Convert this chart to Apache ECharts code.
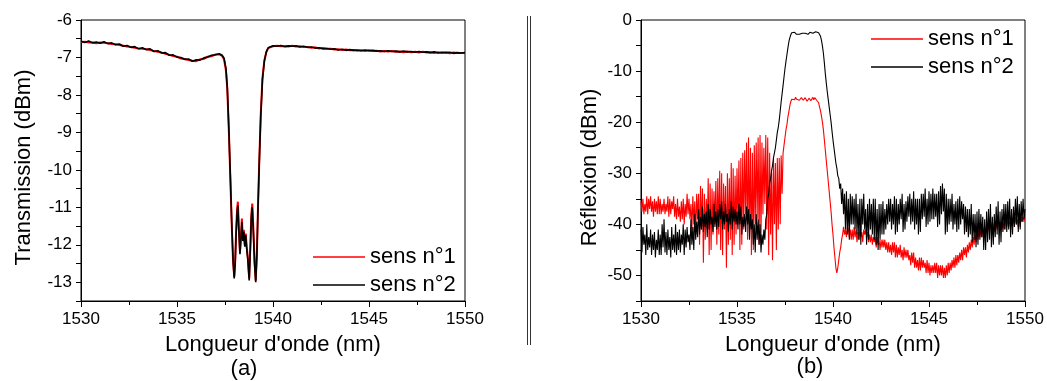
<!DOCTYPE html>
<html>
<head>
<meta charset="utf-8">
<script src="https://cdn.jsdelivr.net/npm/echarts@6/dist/echarts.min.js"></script>
<style>
html, body { margin: 0; padding: 0; background: #fff; }
#chart { width: 1047px; height: 381px; }
</style>
</head>
<body>
<div id="chart"></div>
<script>
// Transmission (a): wavelengths (nm) and both directions (dBm)
const transWl = [
  1530, 1530.2, 1530.4, 1530.6, 1530.8, 1531, 1531.2, 1531.4, 1531.6, 1531.8,
  1532, 1532.2, 1532.4, 1532.6, 1532.8, 1533, 1533.2, 1533.4, 1533.6, 1533.8,
  1534, 1534.2, 1534.4, 1534.6, 1534.8, 1535, 1535.2, 1535.4, 1535.6, 1535.8,
  1536, 1536.2, 1536.4, 1536.6, 1536.8, 1537, 1537.2,
  1537.35, 1537.45, 1537.55, 1537.62, 1537.7, 1537.78, 1537.85, 1537.92, 1537.98, 1538.03,
  1538.08, 1538.13, 1538.17, 1538.22, 1538.28, 1538.33, 1538.38, 1538.43, 1538.48, 1538.53,
  1538.58, 1538.63, 1538.69, 1538.76, 1538.82, 1538.87, 1538.92, 1538.98, 1539.04, 1539.1,
  1539.16, 1539.22, 1539.28, 1539.36, 1539.45, 1539.55, 1539.65, 1539.75, 1539.85,
  1540, 1540.2, 1540.4, 1540.6, 1540.8, 1541, 1541.2, 1541.4, 1541.6, 1541.8,
  1542, 1542.2, 1542.4, 1542.6, 1542.8, 1543, 1543.2, 1543.4, 1543.6, 1543.8,
  1544, 1544.2, 1544.4, 1544.6, 1544.8, 1545, 1545.2, 1545.4, 1545.6, 1545.8,
  1546, 1546.2, 1546.4, 1546.6, 1546.8, 1547, 1547.2, 1547.4, 1547.6, 1547.8,
  1548, 1548.2, 1548.4, 1548.6, 1548.8, 1549, 1549.2, 1549.4, 1549.6, 1549.8, 1550
];
const transN1 = [
  -6.59, -6.58, -6.6, -6.6, -6.62, -6.6, -6.61, -6.62, -6.64, -6.65,
  -6.67, -6.69, -6.71, -6.72, -6.74, -6.76, -6.77, -6.78, -6.8, -6.83,
  -6.85, -6.87, -6.9, -6.93, -6.96, -6.98, -7.03, -7.04, -7.07, -7.09,
  -7.1, -7.05, -7.04, -6.98, -6.97, -6.92, -6.92,
  -6.96, -7.05, -7.35, -7.85, -8.95, -10.25, -11.45, -12.45, -12.85, -12.45,
  -11.6, -11.05, -10.85, -11.55, -12.2, -11.75, -11.3, -11.85, -11.6, -12.0,
  -11.7, -12.05, -12.35, -12.9, -12.05, -11.2, -10.9, -11.6, -12.45, -12.95,
  -12.25, -10.95, -9.85, -8.55, -7.55, -7.08, -6.86, -6.75, -6.7,
  -6.7, -6.69, -6.7, -6.7, -6.71, -6.69, -6.71, -6.7, -6.72, -6.72,
  -6.74, -6.73, -6.76, -6.75, -6.77, -6.77, -6.79, -6.78, -6.8, -6.79,
  -6.81, -6.8, -6.82, -6.81, -6.83, -6.81, -6.83, -6.82, -6.84, -6.83,
  -6.84, -6.83, -6.85, -6.84, -6.86, -6.84, -6.86, -6.85, -6.87, -6.85,
  -6.87, -6.86, -6.88, -6.86, -6.88, -6.87, -6.89, -6.87, -6.88, -6.88, -6.88
];
const transN2 = [
  -6.57, -6.6, -6.56, -6.61, -6.59, -6.62, -6.58, -6.63, -6.61, -6.66,
  -6.64, -6.7, -6.68, -6.73, -6.71, -6.77, -6.74, -6.79, -6.77, -6.84,
  -6.82, -6.88, -6.87, -6.94, -6.93, -6.99, -7.0, -7.05, -7.04, -7.1,
  -7.06, -7.07, -7.01, -6.99, -6.94, -6.93, -6.9,
  -6.94, -7.02, -7.3, -7.8, -8.9, -10.2, -11.4, -12.4, -12.9, -12.5,
  -11.7, -11.15, -10.95, -11.6, -12.25, -11.85, -11.4, -11.9, -11.65, -12.05,
  -11.75, -12.1, -12.4, -12.95, -12.1, -11.3, -11.0, -11.7, -12.5, -13.0,
  -12.3, -11.0, -9.9, -8.6, -7.6, -7.1, -6.85, -6.74, -6.71,
  -6.69, -6.7, -6.68, -6.71, -6.69, -6.7, -6.69, -6.72, -6.7, -6.73,
  -6.72, -6.75, -6.74, -6.77, -6.76, -6.78, -6.77, -6.8, -6.78, -6.81,
  -6.79, -6.81, -6.8, -6.82, -6.8, -6.82, -6.81, -6.83, -6.82, -6.84,
  -6.82, -6.84, -6.83, -6.85, -6.83, -6.85, -6.84, -6.86, -6.84, -6.86,
  -6.85, -6.87, -6.85, -6.88, -6.86, -6.87, -6.86, -6.89, -6.87, -6.88, -6.87
];

// Reflection (b): sampled every 0.05 nm from 1530 to 1550 (one row = 1 nm)
const reflStart = 1530;
const reflStep = 0.05;
const reflN1 = [
  -35.5, -37.5, -35, -38, -36, -37.5, -34.5, -38, -35, -37, -34.5, -37.5, -35.5, -38.5, -35, -37.5, -35.5, -38, -34.5, -38,
  -35, -38, -36, -37.5, -35, -38, -36, -37.5, -34.5, -38.5, -35, -38, -35.5, -37, -34.5, -38.5, -36, -39, -35, -38.5,
  -36.5, -39.5, -35.5, -39, -35, -40, -36, -38.5, -34, -38, -35, -39, -36, -41, -34.5, -40, -35.5, -42, -34, -39,
  -34, -44, -32.5, -41, -33, -47.5, -34, -43, -35, -41, -31, -46, -32, -45, -33, -42, -33.5, -40, -31.5, -44,
  -31, -42, -29.5, -45, -30, -46, -32, -41, -32.5, -48.5, -30, -44, -31, -43, -28, -46, -29, -44, -30.5, -42,
  -29, -40, -27.5, -45, -27, -44, -26, -41, -25.5, -38, -24, -43, -23, -42, -25, -46, -26, -45, -24.5, -40,
  -24, -39, -23, -44, -22.5, -43, -24, -38, -25, -36, -22.5, -41, -23, -46, -26, -42, -30, -47, -27, -40,
  -28, -45, -27, -41, -27, -40, -26.5, -34, -26, -24.5, -23, -21.5, -20.5, -19, -18, -16.8, -16, -15.5, -15.3, -15.4,
  -15.6, -15.1, -15.5, -15.8, -15.3, -15.7, -15.9, -15.2, -15.2, -15.7, -15.7, -15.2, -15.4, -15.9, -15.9, -15.3, -15.2, -15.8, -15.6, -15.1,
  -15.6, -15.2, -15.3, -15.7, -15.9, -16.2, -17, -17.8, -18.8, -20, -21.5, -23.5, -25.5, -27.5, -29.5, -31.5, -33.5, -35.5, -37.5, -40,
  -42, -44.5, -46.5, -48.5, -49.5, -48.5, -47, -45.5, -44.5, -43, -42, -40.5, -42, -41, -42.5, -40.5, -41, -42.5, -41, -43,
  -41, -43, -40.5, -42.5, -41, -43.5, -41.5, -43, -41, -42.5, -41.5, -43.5, -41, -42, -41, -42.5, -41.5, -43.5, -42, -43.5,
  -42, -44, -42.5, -43.5, -42.5, -44.5, -42.5, -44, -43, -45, -43, -44.5, -43, -44.5, -43, -45, -43.5, -45.5, -43.5, -45.5,
  -44, -46, -43.5, -45.5, -43.5, -46.5, -44, -46.5, -44.5, -46, -44, -46.5, -45, -47, -44.5, -46.5, -45, -46.5, -45, -47,
  -46, -48, -45.5, -47.5, -45.5, -48.5, -46.5, -48.5, -47, -49, -46.5, -49, -46.5, -48.5, -47, -48.5, -47.5, -49.5, -47, -49.5,
  -47.5, -50, -48, -49.5, -48, -49.5, -47.5, -49.5, -47.5, -50.5, -48, -50, -48, -50, -48, -50.5, -48.5, -50.5, -48, -50,
  -47.5, -49.5, -47.5, -49, -47, -48.5, -46.5, -48.5, -46, -48, -46, -47.5, -45.5, -47, -45, -47, -44.5, -46, -44.5, -46.5,
  -44, -45.5, -43.5, -45, -43, -44.5, -42.5, -44, -42, -43.5, -41.5, -43, -41, -42.5, -41, -42.5, -40.5, -42, -40.5, -42,
  -40, -41.5, -40, -41.5, -39.5, -41, -39.5, -41.5, -40, -41.5, -39.5, -41, -39, -40.5, -39.5, -41, -39.5, -41, -39.5, -41,
  -39, -40.5, -39, -40.5, -39.5, -40, -39, -40.5, -38.5, -40, -38.5, -40, -39, -40.5, -38.5, -40.5, -38.5, -39.5, -38.5, -39.5,
  -38
];
const reflN2 = [
  -41, -45.5, -40.5, -44, -42, -46, -40, -45, -42.5, -44.5, -41, -46, -42, -45, -41.5, -46.5, -43, -45, -41, -46,
  -42, -46, -40, -44.5, -39, -45.5, -41.5, -46, -41, -45, -42.5, -46.5, -40.5, -45, -42, -45.5, -40, -46, -41.5, -45,
  -41, -45.5, -42, -44, -40, -46, -41, -44.5, -40.5, -43.5, -42, -45, -39, -44, -40.5, -45, -38, -43, -39.5, -42.5,
  -37, -42, -38.5, -41, -36.5, -41.5, -38, -40.5, -37.5, -42.5, -36, -41, -37, -40, -38.5, -41.5, -36, -40.5, -37.5, -41,
  -37, -40.5, -36, -39, -35.5, -41, -37.5, -40, -36, -39.5, -38, -41.5, -37, -40, -35.5, -41, -36.5, -39.5, -37, -40,
  -37.5, -41, -36, -40, -36.5, -42, -38.5, -40.5, -38, -41.5, -36.5, -40, -37, -43, -38, -41, -39, -44, -40, -45.5,
  -38, -43, -39, -44, -40, -45.5, -42, -44, -41, -43, -39, -38, -35, -34, -32, -31, -29.5, -28.5, -27, -26,
  -25, -23.5, -22, -21, -19.6, -17.8, -16, -14.4, -12.8, -11.1, -9.5, -8.1, -6.8, -5.5, -4.3, -3.5, -2.9, -2.5, -2.3, -2.3,
  -2.4, -2.6, -2.8, -2.7, -2.6, -2.8, -2.9, -2.7, -2.6, -2.7, -2.8, -2.6, -2.5, -2.7, -2.8, -2.6, -2.4, -2.5, -2.7, -2.6,
  -2.5, -2.3, -2.3, -2.3, -2.4, -2.5, -2.8, -3.2, -4.0, -5.1, -6.5, -8.4, -10.5, -12.3, -14, -15.5, -17, -18.5, -20, -21.8,
  -23.5, -25, -26.5, -28, -29, -30.5, -31, -33, -32, -36, -33, -38, -34, -41, -33.5, -42, -35, -43, -34, -40,
  -34.5, -40, -35, -41, -34, -42, -36, -43, -35, -44, -35, -40, -34, -41, -37, -44, -36, -43, -35, -41,
  -36, -42, -35, -43, -35, -44, -37, -45, -36, -43, -36, -42, -35.5, -42, -37, -41, -36, -40, -35, -39.5,
  -35, -41, -36, -40, -34.5, -42, -35, -41.5, -36, -40, -35, -39, -34, -41.5, -36, -41, -35.5, -39.5, -34.5, -38.5,
  -34, -40, -35, -39.5, -33.5, -41, -35, -40, -35, -42, -35, -41.5, -34, -39, -34, -38.5, -33, -40.5, -35, -40,
  -33.5, -39.5, -34, -39, -33, -39, -34, -38.5, -34, -40.5, -33.5, -40, -32.5, -38, -32, -37.5, -33, -42, -34, -41.5,
  -35, -40, -35, -39.5, -34, -41, -36, -40, -35.5, -41.5, -35, -41, -34.5, -40, -35.5, -39, -36, -42, -36.5, -41.5,
  -37, -42.5, -37, -42, -36, -43.5, -38, -43, -38, -44.5, -37.5, -44, -37, -43, -38, -42.5, -38.5, -45, -39, -45,
  -37.5, -43.5, -37, -43, -36, -44.5, -38.5, -44, -38, -42.5, -36.5, -42, -35.5, -44, -37.5, -43.5, -37, -41.5, -36, -41,
  -36, -41.5, -35.5, -41, -35, -42.5, -37, -42, -36.5, -40.5, -35, -40, -34.5, -41.5, -36, -41, -35.5, -39.5, -35, -39,
  -37
];

const seriesNames = ['sens n°1', 'sens n°2'];
const FONT = '"Liberation Sans", Arial, sans-serif';

const pairsT = vals => vals.map((v, i) => [transWl[i], v]);
const pairsR = vals => vals.map((v, i) => [+(reflStart + i * reflStep).toFixed(2), v]);

function xAxisFor(gridIndex) {
  return {
    type: 'value', gridIndex: gridIndex, min: 1530, max: 1550, interval: 5,
    name: "Longueur d'onde (nm)", nameLocation: 'middle', nameGap: 33,
    nameTextStyle: { fontFamily: FONT, fontSize: 22, color: '#000' },
    axisLine: { show: true, onZero: false, lineStyle: { color: '#000', width: 1 } },
    axisTick: { show: true, length: 6, lineStyle: { color: '#000' } },
    minorTick: { show: true, splitNumber: 2, length: 4, lineStyle: { color: '#000' } },
    axisLabel: { fontFamily: FONT, fontSize: 17, color: '#000', margin: 10, formatter: v => String(v) },
    splitLine: { show: false }
  };
}

function yAxisFor(gridIndex, name, min, max, step, labelEvery, gap) {
  return {
    type: 'value', gridIndex: gridIndex, min: min, max: max, interval: step,
    name: name, nameLocation: 'middle', nameGap: gap,
    nameTextStyle: { fontFamily: FONT, fontSize: 22, color: '#000', padding: [0, 14, 0, 0] },
    axisLine: { show: true, onZero: false, lineStyle: { color: '#000', width: 1 } },
    axisTick: { show: true, length: 5, lineStyle: { color: '#000' } },
    axisLabel: {
      fontFamily: FONT, fontSize: 17, color: '#000', margin: 9,
      formatter: v => (Math.abs(v / labelEvery - Math.round(v / labelEvery)) < 1e-6 ? String(v) : '')
    },
    splitLine: { show: false }
  };
}

// plain line as legend key
const legendLine = 'path://M0,0H52V1.5H0Z';

function legendAt(left, top) {
  return {
    data: seriesNames, orient: 'vertical', left: left, top: top,
    icon: legendLine, symbolKeepAspect: true,
    itemWidth: 52, itemHeight: 22, itemGap: 6, padding: 0, selectedMode: false,
    textStyle: { fontFamily: FONT, fontSize: 22, color: '#000' }
  };
}

function lineSeries(name, data, color, width, idx) {
  return {
    name: name, type: 'line', data: data, xAxisIndex: idx, yAxisIndex: idx,
    symbol: 'none', showSymbol: false, silent: true,
    lineStyle: { color: color, width: width }, itemStyle: { color: color }
  };
}

const chart = echarts.init(document.getElementById('chart'), null, { renderer: 'canvas' });

chart.setOption({
  animation: false,
  backgroundColor: '#fff',
  grid: [
    { left: 81, top: 20, width: 384, height: 281, show: true, borderColor: '#000', borderWidth: 1, backgroundColor: 'transparent' },
    { left: 641, top: 20, width: 384, height: 281, show: true, borderColor: '#000', borderWidth: 1, backgroundColor: 'transparent' }
  ],
  xAxis: [xAxisFor(0), xAxisFor(1)],
  yAxis: [
    yAxisFor(0, 'Transmission (dBm)', -13.5, -6, 0.5, 1, 46),
    yAxisFor(1, 'Réflexion (dBm)', -55, 0, 5, 10, 40)
  ],
  legend: [legendAt(313, 246), legendAt(871, 28)],
  series: [
    lineSeries(seriesNames[0], pairsT(transN1), '#ff0000', 2, 0),
    lineSeries(seriesNames[1], pairsT(transN2), '#000000', 1.6, 0),
    lineSeries(seriesNames[0], pairsR(reflN1), '#ff0000', 1.1, 1),
    lineSeries(seriesNames[1], pairsR(reflN2), '#000000', 1.1, 1)
  ],
  graphic: [
    { type: 'line', shape: { x1: 527.5, y1: 16, x2: 527.5, y2: 345 }, style: { stroke: '#333', lineWidth: 1 } },
    { type: 'line', shape: { x1: 530.5, y1: 16, x2: 530.5, y2: 345 }, style: { stroke: '#333', lineWidth: 1 } },
    { type: 'text', x: 244, y: 369, style: { text: '(a)', font: '22px ' + FONT, fill: '#000', textAlign: 'center', textVerticalAlign: 'middle' } },
    { type: 'text', x: 810, y: 367, style: { text: '(b)', font: '22px ' + FONT, fill: '#000', textAlign: 'center', textVerticalAlign: 'middle' } }
  ]
});
</script>
</body>
</html>
